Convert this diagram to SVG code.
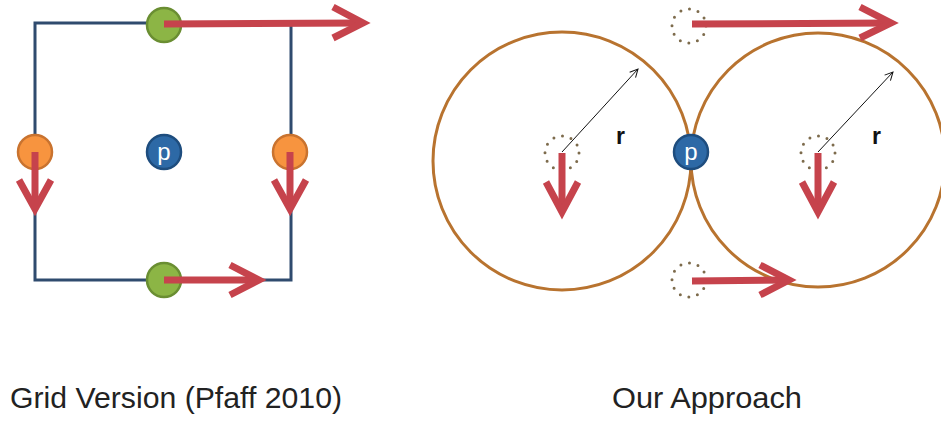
<svg xmlns="http://www.w3.org/2000/svg" width="941" height="421" viewBox="0 0 941 421">
<defs>
<style>
.sq{fill:none;stroke:#2f4b6e;stroke-width:3}
.green{fill:#8cb545;stroke:#6a8e32;stroke-width:2.5}
.orange{fill:#f7943f;stroke:#c9732f;stroke-width:2.5}
.blue{fill:#2d69a6;stroke:#1e4d7e;stroke-width:2.5}
.ring{fill:none;stroke:#b8732f;stroke-width:3}
.dot{fill:none;stroke:#7d6b4c;stroke-width:3;stroke-linecap:round;stroke-dasharray:0 8.9}
.red{fill:none;stroke:#c6434c;stroke-width:7;stroke-linejoin:miter;stroke-linecap:butt}
.thin{fill:none;stroke:#111;stroke-width:1}
.p{font-family:"Liberation Sans",Arial,sans-serif;font-size:24px;fill:#fff;text-anchor:middle}
.r{font-family:"Liberation Sans",Arial,sans-serif;font-size:23px;font-weight:bold;fill:#111}
.cap{font-family:"Liberation Sans",Arial,sans-serif;font-size:30px;fill:#222}
</style>
<marker id="ah" viewBox="0 0 10 10" refX="9" refY="5" markerWidth="10" markerHeight="10" markerUnits="userSpaceOnUse" orient="auto">
<path d="M1,1 L9,5 L1,9" fill="none" stroke="#111" stroke-width="1"/>
</marker>
</defs>

<g id="grid-square">
<rect class="sq" x="35" y="23" width="256" height="257"/>
</g>

<g id="node-green-top"><circle class="green" cx="164" cy="25" r="17"/></g>
<g id="node-green-bottom"><circle class="green" cx="164" cy="280" r="17"/></g>
<g id="node-orange-left"><circle class="orange" cx="35" cy="152" r="17"/></g>
<g id="node-orange-right"><circle class="orange" cx="290" cy="152" r="17"/></g>
<g id="node-p-left"><circle class="blue" cx="164" cy="152" r="17"/><text class="p" x="164" y="160">p</text></g>

<g id="circle-left"><circle class="ring" cx="562" cy="161" r="129"/></g>
<g id="circle-right"><circle class="ring" cx="818" cy="160" r="127"/></g>

<g id="dot-top"><circle class="dot" cx="689" cy="26" r="17"/></g>
<g id="dot-bottom"><circle class="dot" cx="689" cy="280" r="17"/></g>
<g id="dot-left"><circle class="dot" cx="562" cy="153" r="17"/></g>
<g id="dot-right"><circle class="dot" cx="818" cy="153" r="17"/></g>

<g id="connectors">
<path class="red" d="M164,24 L362,23"/>
<path class="red" d="M333,7 L363,23 L333,38"/>
<path class="red" d="M164,280 L258,280"/>
<path class="red" d="M230,265 L259,280 L230,295"/>
<path class="red" d="M35,152 L35,208"/>
<path class="red" d="M19,180 L35,209 L51,180"/>
<path class="red" d="M290,152 L290,208"/>
<path class="red" d="M274,180 L290,209 L306,180"/>

<path class="red" d="M692,24 L890,23"/>
<path class="red" d="M860,7 L891,23 L860,38"/>
<path class="red" d="M692,281 L788,280"/>
<path class="red" d="M760,265 L789,280 L760,295"/>
<path class="red" d="M562,153 L562,211"/>
<path class="red" d="M546,182 L562,212 L578,182"/>
<path class="red" d="M818,153 L818,211"/>
<path class="red" d="M802,182 L818,212 L834,182"/>

<path class="thin" d="M562,152 L638,69" marker-end="url(#ah)"/>
<path class="thin" d="M818,152 L893,72" marker-end="url(#ah)"/>
</g>

<g id="node-p-right"><circle class="blue" cx="691" cy="152" r="17"/><text class="p" x="691" y="160">p</text></g>

<g id="labels">
<text class="r" x="616" y="144">r</text>
<text class="r" x="872" y="144">r</text>
<text class="cap" x="10" y="408" textLength="332" lengthAdjust="spacingAndGlyphs">Grid Version (Pfaff 2010)</text>
<text class="cap" x="612" y="408" textLength="190" lengthAdjust="spacingAndGlyphs">Our Approach</text>
</g>
</svg>
